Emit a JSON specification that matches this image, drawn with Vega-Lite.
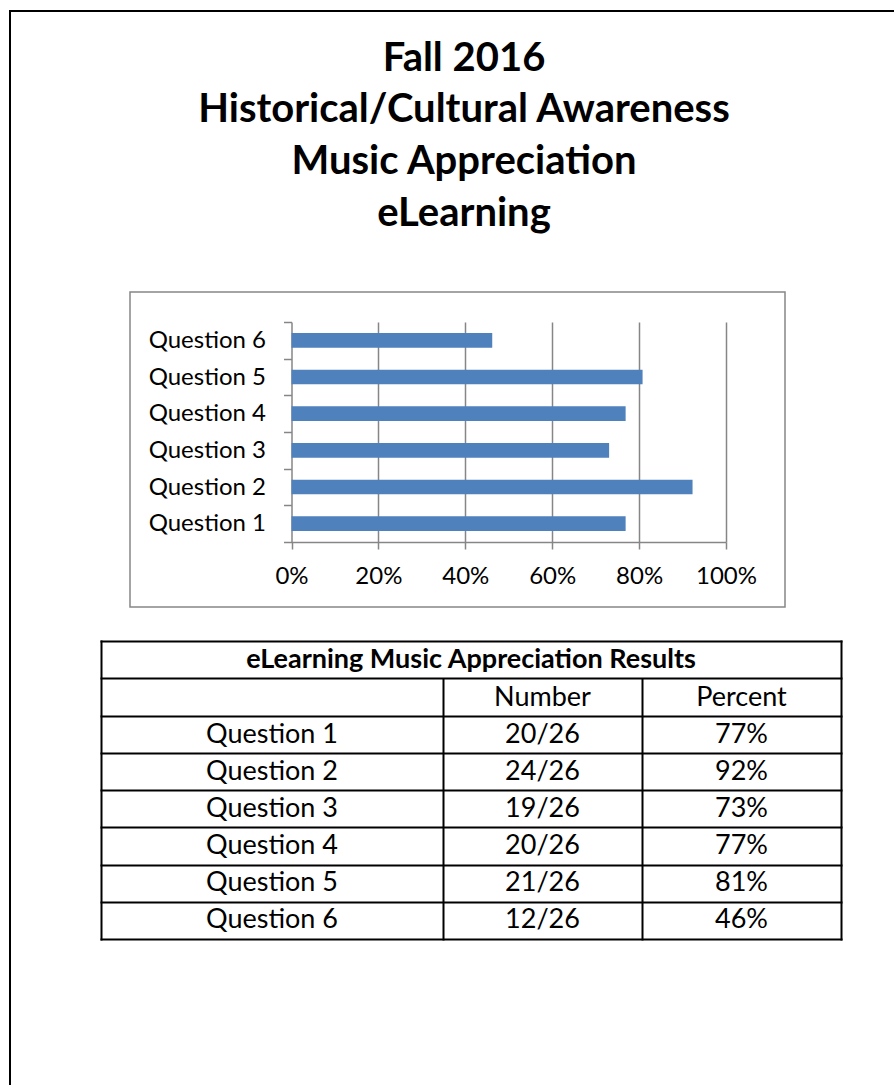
{
  "$schema": "https://vega.github.io/schema/vega-lite/v6.json",
  "width": 884,
  "height": 1074,
  "autosize": {"type": "none"},
  "padding": {"left": 10, "top": 11, "right": 0, "bottom": 0},
  "background": "white",
  "config": {
    "view": {"stroke": null},
    "font": "Lato",
    "text": {"font": "Lato"}
  },
  "datasets": {
    "page": [{"page": "frame"}],
    "titleLines": [
      {"line": 1, "text": "Fall 2016"},
      {"line": 2, "text": "Historical/Cultural Awareness"},
      {"line": 3, "text": "Music Appreciation"},
      {"line": 4, "text": "eLearning"}
    ],
    "chartArea": [{"area": "chart"}],
    "questions": [
      {"question": "Question 1", "pct": 0.769},
      {"question": "Question 2", "pct": 0.923},
      {"question": "Question 3", "pct": 0.731},
      {"question": "Question 4", "pct": 0.769},
      {"question": "Question 5", "pct": 0.808},
      {"question": "Question 6", "pct": 0.462}
    ],
    "tableTitle": [{"row": 0, "text": "eLearning Music Appreciation Results"}],
    "cells": [
      {"row": 1, "col": 1, "text": "Number"},
      {"row": 1, "col": 2, "text": "Percent"},
      {"row": 2, "col": 0, "text": "Question 1"},
      {"row": 2, "col": 1, "text": "20/26"},
      {"row": 2, "col": 2, "text": "77%"},
      {"row": 3, "col": 0, "text": "Question 2"},
      {"row": 3, "col": 1, "text": "24/26"},
      {"row": 3, "col": 2, "text": "92%"},
      {"row": 4, "col": 0, "text": "Question 3"},
      {"row": 4, "col": 1, "text": "19/26"},
      {"row": 4, "col": 2, "text": "73%"},
      {"row": 5, "col": 0, "text": "Question 4"},
      {"row": 5, "col": 1, "text": "20/26"},
      {"row": 5, "col": 2, "text": "77%"},
      {"row": 6, "col": 0, "text": "Question 5"},
      {"row": 6, "col": 1, "text": "21/26"},
      {"row": 6, "col": 2, "text": "81%"},
      {"row": 7, "col": 0, "text": "Question 6"},
      {"row": 7, "col": 1, "text": "12/26"},
      {"row": 7, "col": 2, "text": "46%"}
    ]
  },
  "layer": [
    {
      "data": {"name": "page"},
      "mark": {"type": "rule", "color": "black", "strokeWidth": 2},
      "encoding": {
        "x": {"datum": 0, "type": "quantitative", "scale": {"domain": [0, 1], "range": [0, 1000], "zero": false, "nice": false}, "axis": null},
        "y": {"datum": 0, "type": "quantitative", "scale": {"domain": [0, 1], "range": [-1, 1200], "zero": false, "nice": false}, "axis": null},
        "y2": {"datum": 1}
      }
    },
    {
      "data": {"name": "page"},
      "mark": {"type": "rule", "color": "black", "strokeWidth": 2},
      "encoding": {
        "x": {"datum": 0, "type": "quantitative", "scale": {"domain": [0, 1], "range": [-1, 1000], "zero": false, "nice": false}, "axis": null},
        "x2": {"datum": 1},
        "y": {"datum": 0, "type": "quantitative", "scale": {"domain": [0, 1], "range": [0, 1200], "zero": false, "nice": false}, "axis": null}
      }
    },
    {
      "data": {"name": "titleLines"},
      "mark": {"type": "text", "fontSize": 40, "fontWeight": "bold", "font": "Lato", "dx": 12, "baseline": "alphabetic", "align": "center", "color": "black"},
      "encoding": {
        "y": {"field": "line", "type": "quantitative", "scale": {"domain": [1, 4], "range": [59.5, 214.5], "zero": false, "nice": false}, "axis": null},
        "text": {"field": "text"}
      }
    },
    {
      "data": {"name": "chartArea"},
      "mark": {"type": "rect", "filled": false, "stroke": "#868686", "strokeWidth": 1.5},
      "encoding": {
        "x": {"datum": 0, "type": "quantitative", "scale": {"domain": [0, 1], "range": [120, 775], "zero": false, "nice": false}, "axis": null},
        "x2": {"datum": 1},
        "y": {"datum": 0, "type": "quantitative", "scale": {"domain": [0, 1], "range": [281, 596], "zero": false, "nice": false}, "axis": null},
        "y2": {"datum": 1}
      }
    },
    {
      "data": {"name": "questions"},
      "layer": [
        {
          "mark": {"type": "bar", "opacity": 0},
          "encoding": {
            "x": {"field": "pct", "type": "quantitative",
              "scale": {"domain": [0, 1], "range": [281.5, 716], "zero": false, "nice": false},
              "axis": {"orient": "top", "grid": true, "gridColor": "#868686", "gridWidth": 1.5, "values": [0.2, 0.4, 0.6, 0.8, 1], "labels": false, "ticks": false, "domain": false, "title": null}},
            "y": {"field": "question", "type": "nominal",
              "scale": {"domain": ["Question 6", "Question 5", "Question 4", "Question 3", "Question 2", "Question 1"], "range": [311, 531], "paddingInner": 0, "paddingOuter": 0},
              "axis": null}
          }
        },
        {
          "mark": {"type": "bar", "color": "#4F81BD", "height": {"band": 0.4}},
          "encoding": {
            "x": {"field": "pct", "type": "quantitative",
              "scale": {"domain": [0, 1], "range": [281.5, 716], "zero": false, "nice": false},
              "axis": {"orient": "bottom", "offset": -543, "grid": false, "values": [0, 0.2, 0.4, 0.6, 0.8, 1], "format": ".0%", "labelFlush": false,
                "domainColor": "#868686", "domainWidth": 1.5, "tickColor": "#868686", "tickWidth": 1.5, "tickSize": 7,
                "labelFont": "Lato", "labelFontSize": 24, "labelColor": "black", "labelPadding": 15, "title": null}},
            "y": {"field": "question", "type": "nominal",
              "scale": {"domain": ["Question 6", "Question 5", "Question 4", "Question 3", "Question 2", "Question 1"], "range": [311, 531], "paddingInner": 0, "paddingOuter": 0},
              "axis": {"orient": "left", "offset": -281.5, "tickBand": "extent", "tickSize": 8, "tickColor": "#868686", "tickWidth": 1.5,
                "domainColor": "#868686", "domainWidth": 1.5, "labelFont": "Lato", "labelFontSize": 24, "labelColor": "black", "labelPadding": 18, "title": null}}
          }
        }
      ],
      "resolve": {"axis": {"x": "independent", "y": "independent"}}
    },
    {
      "data": {"name": "tableTitle"},
      "mark": {"type": "text", "fontWeight": "bold", "fontSize": 27, "font": "Lato", "baseline": "middle", "align": "center", "color": "black"},
      "encoding": {
        "x": {"datum": 0.5, "type": "quantitative",
          "scale": {"domain": [0, 1], "range": [91, 831], "zero": false, "nice": false},
          "axis": {"orient": "top", "values": [0, 1], "grid": true, "gridColor": "black", "gridWidth": 2, "gridCap": "square", "domain": false, "ticks": false, "labels": false, "title": null}},
        "y": {"field": "row", "type": "quantitative",
          "scale": {"domain": [-0.5, 7.5], "range": [630, 928], "zero": false, "nice": false},
          "axis": {"orient": "left", "values": [-0.5, 0.5, 1.5, 2.5, 3.5, 4.5, 5.5, 6.5, 7.5], "grid": true, "gridColor": "black", "gridWidth": 2, "gridCap": "square", "domain": false, "ticks": false, "labels": false, "title": null}},
        "text": {"field": "text"}
      }
    },
    {
      "data": {"name": "cells"},
      "mark": {"type": "text", "fontSize": 27, "font": "Lato", "baseline": "middle", "align": "center", "color": "black"},
      "encoding": {
        "x": {"field": "col", "type": "quantitative",
          "scale": {"domain": [-0.5, 0.5, 1.5, 2.5], "range": [91, 433, 632, 831], "zero": false, "nice": false},
          "axis": {"orient": "top", "values": [0.5, 1.5], "grid": true, "gridColor": "black", "gridWidth": 2, "gridCap": "square", "domain": false, "ticks": false, "labels": false, "title": null}},
        "y": {"field": "row", "type": "quantitative",
          "scale": {"domain": [0.5, 7.5], "range": [668, 928], "zero": false, "nice": false},
          "axis": null},
        "text": {"field": "text"}
      }
    }
  ],
  "resolve": {
    "scale": {"x": "independent", "y": "independent"},
    "axis": {"x": "independent", "y": "independent"}
  }
}
